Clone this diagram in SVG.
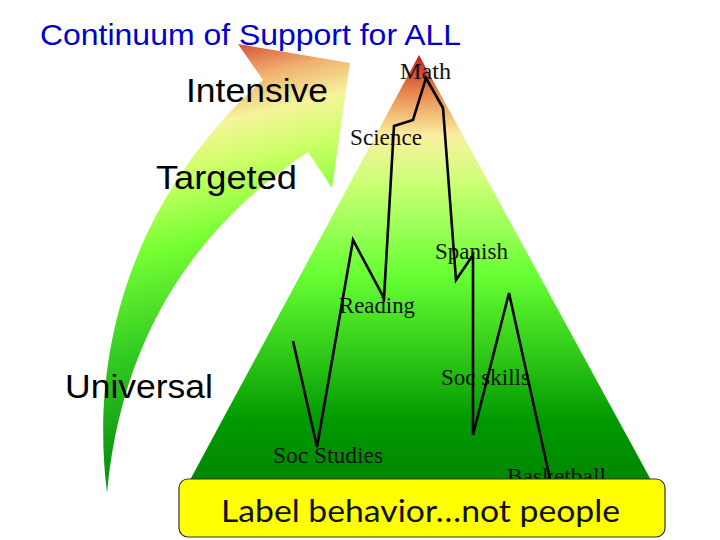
<svg xmlns="http://www.w3.org/2000/svg" width="720" height="540" viewBox="0 0 720 540">
<defs>
<linearGradient id="triGrad" gradientUnits="userSpaceOnUse" x1="0" y1="55" x2="0" y2="480">
<stop offset="0" stop-color="#c41a1a"/>
<stop offset="0.09" stop-color="#e88a50"/>
<stop offset="0.19" stop-color="#faf0a0"/>
<stop offset="0.3" stop-color="#ccff77"/>
<stop offset="0.52" stop-color="#66ff33"/>
<stop offset="0.75" stop-color="#22bb11"/>
<stop offset="0.86" stop-color="#009900"/>
<stop offset="1" stop-color="#008800"/>
</linearGradient>
<linearGradient id="arrowGrad" gradientUnits="userSpaceOnUse" x1="220" y1="30" x2="330" y2="490">
<stop offset="0" stop-color="#c8201a"/>
<stop offset="0.11" stop-color="#f0b070"/>
<stop offset="0.19" stop-color="#f5f59a"/>
<stop offset="0.28" stop-color="#ccff66"/>
<stop offset="0.42" stop-color="#77ff33"/>
<stop offset="0.62" stop-color="#33cc22"/>
<stop offset="0.82" stop-color="#119911"/>
<stop offset="1" stop-color="#009900"/>
</linearGradient>
<style>
.sans{font-family:"Liberation Sans",Arial,sans-serif;fill:#000;}
.tier{font-size:34px;}
.subj{font-family:"Liberation Serif","Times New Roman",serif;font-size:23px;fill:#111;}
.zig{fill:none;stroke:#000;stroke-width:2.6;stroke-linejoin:miter;}
</style>
</defs>
<rect width="720" height="540" fill="#fff"/>
<g id="title">
<text x="40" y="45" class="sans" font-size="30" style="fill:#0000cc" textLength="421" lengthAdjust="spacingAndGlyphs">Continuum of Support for ALL</text>
</g>
<g id="arrow">
<path d="M107,493 C88,340 140,190 263,80 L238,44 L350,63 L332,188 L308,152 C230,205 125,300 107,493 Z" fill="url(#arrowGrad)"/>
</g>
<g id="pyramid">
<polygon points="419,55 651,480 190,480" fill="url(#triGrad)"/>
</g>
<g id="tier-labels">
<text id="intensive" x="186" y="102" class="sans tier" textLength="142" lengthAdjust="spacingAndGlyphs">Intensive</text>
<text id="targeted" x="156" y="189" class="sans tier" textLength="141" lengthAdjust="spacingAndGlyphs">Targeted</text>
<text id="universal" x="65" y="398" class="sans tier" textLength="148" lengthAdjust="spacingAndGlyphs">Universal</text>
</g>
<g id="subjects">
<text id="math" x="400" y="79" class="subj" textLength="51" lengthAdjust="spacingAndGlyphs">Math</text>
<text id="science" x="350" y="145" class="subj" textLength="72" lengthAdjust="spacingAndGlyphs">Science</text>
<text id="spanish" x="435" y="259" class="subj" textLength="73" lengthAdjust="spacingAndGlyphs">Spanish</text>
<text id="reading" x="339" y="313" class="subj" textLength="76" lengthAdjust="spacingAndGlyphs">Reading</text>
<text id="socskills" x="441" y="385" class="subj" textLength="89" lengthAdjust="spacingAndGlyphs">Soc skills</text>
<text id="socstudies" x="273" y="463" class="subj" textLength="110" lengthAdjust="spacingAndGlyphs">Soc Studies</text>
<text id="basketball" x="507" y="484" class="subj" textLength="99" lengthAdjust="spacingAndGlyphs">Basketball</text>
</g>
<g id="connectors">
<polyline class="zig" points="293,341 317,447 353,240 384,298 394,126 413,120 426,78 443,108 456,280 473,255 473,435 509,293 550,479"/>
</g>
<g id="banner">
<rect x="179" y="479" width="486" height="58" rx="9" ry="9" fill="#ffff00" stroke="#333" stroke-width="1.2"/>
<text x="221" y="522" font-family="Lato,'Open Sans',sans-serif" font-size="31" fill="#111" textLength="399" lengthAdjust="spacingAndGlyphs">Label behavior…not people</text>
</g>
</svg>
